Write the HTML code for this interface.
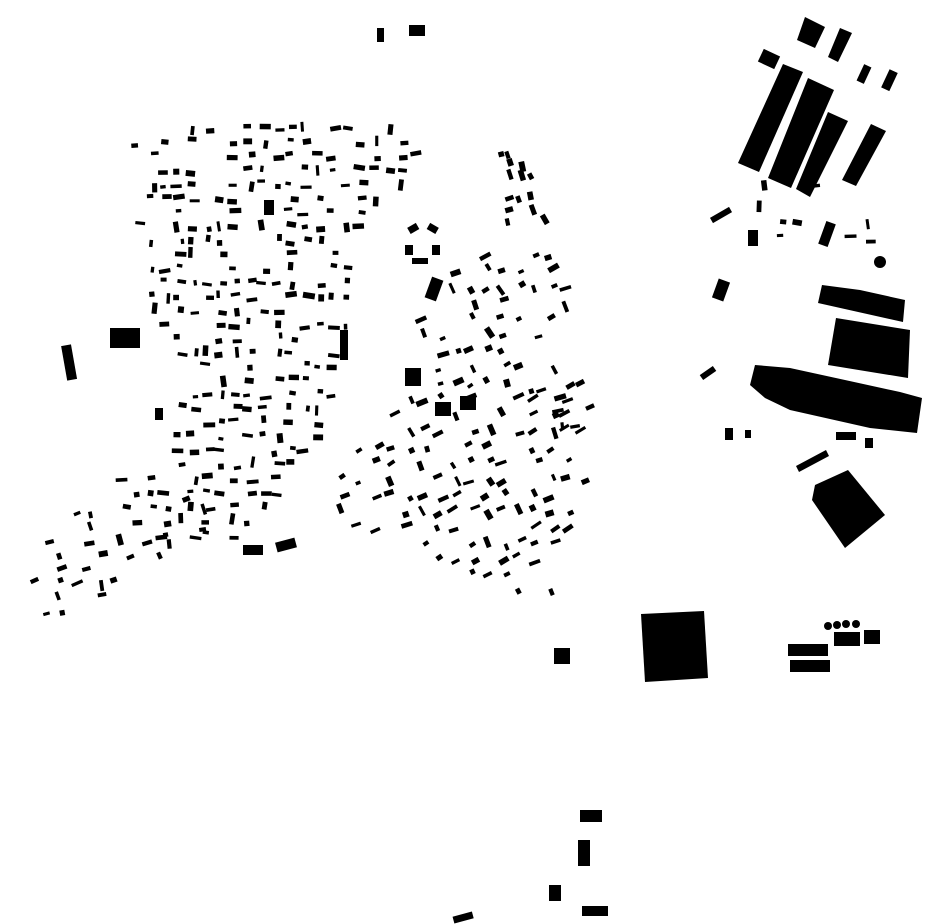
<!DOCTYPE html>
<html><head><meta charset="utf-8"><style>
html,body{margin:0;padding:0;background:#fff;}
svg{display:block;}
</style></head><body>
<svg id="s" width="930" height="924" viewBox="0 0 930 924" xmlns="http://www.w3.org/2000/svg">
<g fill="#000">
<polygon points="783,64 803,72 759,172 738,163"/>
<polygon points="808,78 834,90 791,188 768,178"/>
<polygon points="828,112 848,121 810,197 796,189"/>
<polygon points="871,124 886,131 856,186 842,180"/>
<polygon points="805,17 825,27 815,48 797,40"/>
<polygon points="840,28 852,33 838,62 828,57"/>
<rect x="760" y="52" width="18" height="14" transform="rotate(25 769 59)"/>
<rect x="860" y="65" width="8" height="18" transform="rotate(25 864 74)"/>
<rect x="885" y="70" width="9" height="20" transform="rotate(25 889 80)"/>
<polygon points="822,285 860,290 905,300 903,322 818,303"/>
<polygon points="836,318 910,330 908,378 828,365"/>
<polygon points="755,365 790,368 900,392 922,398 917,433 870,428 790,410 765,398 750,385"/>
<polygon points="815,485 848,470 885,515 845,548 812,500"/>
<polygon points="796,466 826,450 829,456 799,472"/>
<rect x="715" y="280" width="12" height="20" transform="rotate(20 721 290)"/>
<rect x="710" y="212" width="22" height="6" transform="rotate(-30 721 215)"/>
<rect x="748" y="230" width="10" height="16"/>
<rect x="822" y="222" width="10" height="24" transform="rotate(20 827 234)"/>
<circle cx="880" cy="262" r="6"/>
<rect x="700" y="370" width="16" height="6" transform="rotate(-35 708 373)"/>
<rect x="725" y="428" width="8" height="12"/>
<rect x="745" y="430" width="6" height="8"/>
<rect x="836" y="432" width="20" height="8"/>
<rect x="865" y="438" width="8" height="10"/>
<polygon points="641,614 704,611 708,678 645,682"/>
<rect x="788" y="644" width="40" height="12"/>
<rect x="790" y="660" width="40" height="12"/>
<circle cx="828" cy="626" r="4"/><circle cx="837" cy="625" r="4"/><circle cx="846" cy="624" r="4"/><circle cx="856" cy="624" r="4"/>
<rect x="834" y="632" width="26" height="14"/>
<rect x="864" y="630" width="16" height="14"/>
<rect x="554" y="648" width="16" height="16"/>
<rect x="377" y="28" width="7" height="14"/>
<rect x="409" y="25" width="16" height="11"/>
<rect x="580" y="810" width="22" height="12"/>
<rect x="578" y="840" width="12" height="26"/>
<rect x="549" y="885" width="12" height="16"/>
<rect x="582" y="906" width="26" height="10"/>
<rect x="453" y="914" width="20" height="7" transform="rotate(-15 463 917)"/>
<rect x="110" y="328" width="30" height="20"/>
<rect x="64" y="345" width="10" height="35" transform="rotate(-10 69 362)"/>
<rect x="155" y="408" width="8" height="12"/>
<rect x="243" y="545" width="20" height="10"/>
<rect x="276" y="540" width="20" height="10" transform="rotate(-15 286 545)"/>
<rect x="428" y="278" width="12" height="22" transform="rotate(20 434 289)"/>
<rect x="405" y="368" width="16" height="18"/>
<rect x="460" y="396" width="16" height="14"/>
<rect x="435" y="402" width="16" height="14"/>
<rect x="264" y="200" width="10" height="15"/>
<rect x="408" y="225" width="10" height="7" transform="rotate(-30 413 228)"/>
<rect x="428" y="225" width="10" height="7" transform="rotate(30 433 228)"/>
<rect x="405" y="245" width="8" height="10"/>
<rect x="432" y="245" width="8" height="10"/>
<rect x="412" y="258" width="16" height="6"/>
<rect x="340" y="330" width="8" height="30"/>
</g>
<g id="gen" fill="#000"></g>
</svg>
<script>
(function(){
var seed=12345;function r(){seed=(seed*1103515245+12345)&0x7fffffff;return seed/0x7fffffff;}
function inPoly(x,y,p){var c=false;for(var i=0,j=p.length-1;i<p.length;j=i++){var xi=p[i][0],yi=p[i][1],xj=p[j][0],yj=p[j][1];if(((yi>y)!=(yj>y))&&(x<(xj-xi)*(y-yi)/(yj-yi)+xi))c=!c;}return c;}
var regions=[
 {p:[[130,135],[250,125],[420,130],[435,180],[380,200],[360,230],[350,300],[340,380],[320,440],[290,490],[250,540],[200,540],[130,560],[120,480],[160,450],[190,380],[150,300],[130,220]],step:14,prob:0.55,ang:0},
 {p:[[340,470],[380,400],[420,320],[460,260],[500,235],[560,260],[590,300],[560,340],[590,400],[590,470],[570,520],[560,600],[520,600],[440,570],[380,540],[340,530]],step:16,prob:0.55,ang:-25},
 {p:[[485,140],[520,150],[560,230],[520,240],[490,200]],step:11,prob:0.45,ang:70},
 {p:[[15,520],[130,495],[230,495],[190,550],[140,565],[100,600],[20,630]],step:14,prob:0.4,ang:-15},
 {p:[[740,180],[890,190],[880,250],[780,250]],step:18,prob:0.25,ang:0},
 {p:[[510,390],[590,390],[590,430],[520,430]],step:15,prob:0.5,ang:-15}
];
var g=document.getElementById('gen'),out='';
regions.forEach(function(R){
 var xs=R.p.map(function(a){return a[0]}),ys=R.p.map(function(a){return a[1]});
 var x0=Math.min.apply(0,xs),x1=Math.max.apply(0,xs),y0=Math.min.apply(0,ys),y1=Math.max.apply(0,ys);
 for(var y=y0;y<y1;y+=R.step)for(var x=x0;x<x1;x+=R.step){
  var px=x+r()*R.step*0.5,py=y+r()*R.step*0.5;
  if(!inPoly(px,py,R.p)||r()>R.prob)continue;
  var w=5+r()*7,h=3+r()*3,a=R.ang+(r()<0.3?90:0)+(r()-0.5)*20;
  out+='<rect x="'+(px-w/2).toFixed(1)+'" y="'+(py-h/2).toFixed(1)+'" width="'+w.toFixed(1)+'" height="'+h.toFixed(1)+'" transform="rotate('+a.toFixed(0)+' '+px.toFixed(1)+' '+py.toFixed(1)+')"/>';
 }
});
g.innerHTML=out;
})();
</script>
</body></html>
